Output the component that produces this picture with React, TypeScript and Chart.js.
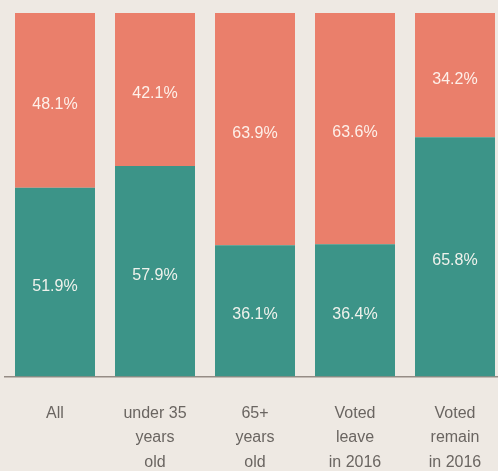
import React, { useEffect, useRef } from "react";
import { Chart, registerables } from "chart.js";

Chart.register(...registerables);

const categories: string[][] = [
  ["All"],
  ["under 35", "years", "old"],
  ["65+", "years", "old"],
  ["Voted", "leave", "in 2016"],
  ["Voted", "remain", "in 2016"],
];
const agreeShare = [51.9, 57.9, 36.1, 36.4, 65.8];
const disagreeShare = [48.1, 42.1, 63.9, 63.6, 34.2];

const BG = "#eee9e3";
const TEAL = "#3c9488";
const SALMON = "#ea7f6b";

// Writes each segment's share in the middle of its bar piece.
const segmentLabels = {
  id: "segmentLabels",
  afterDatasetsDraw(chart: Chart) {
    const ctx = chart.ctx;
    ctx.save();
    ctx.font = "16px 'Liberation Sans', Arial, sans-serif";
    ctx.fillStyle = "rgba(255,250,244,0.92)";
    ctx.textAlign = "center";
    ctx.textBaseline = "middle";
    chart.data.datasets.forEach((ds, di) => {
      const meta = chart.getDatasetMeta(di);
      meta.data.forEach((el: any, i: number) => {
        const v = ds.data[i] as number;
        const mid = (el.y + el.base) / 2 + 4;
        ctx.fillText(v.toFixed(1) + "%", el.x, mid);
      });
    });
    ctx.restore();
  },
};

export default function App() {
  const ref = useRef<HTMLCanvasElement>(null);

  useEffect(() => {
    document.body.style.margin = "0";
    document.body.style.overflow = "hidden";
    document.body.style.background = BG;
    const chart = new Chart(ref.current!, {
      type: "bar",
      data: {
        labels: categories,
        datasets: [
          {
            data: agreeShare,
            backgroundColor: TEAL,
            barPercentage: 0.8,
            categoryPercentage: 1,
          },
          {
            data: disagreeShare,
            backgroundColor: SALMON,
            barPercentage: 0.8,
            categoryPercentage: 1,
          },
        ],
      },
      options: {
        animation: false,
        responsive: false,
        maintainAspectRatio: false,
        layout: { padding: { top: 13, left: 5, right: 0, bottom: 0 } },
        plugins: {
          legend: { display: false },
          tooltip: { enabled: false },
        },
        scales: {
          x: {
            stacked: true,
            grid: { display: false },
            border: { display: true, color: "#958c85", width: 1.5 },
            ticks: {
              color: "#6a6561",
              padding: 16.5,
              maxRotation: 0,
              autoSkip: false,
              font: {
                family: "'Liberation Sans', Arial, sans-serif",
                size: 16,
                lineHeight: 1.53,
              },
            },
          },
          y: {
            stacked: true,
            display: false,
            min: 0,
            max: 100,
          },
        },
      },
      plugins: [segmentLabels],
    });
    return () => chart.destroy();
  }, []);

  return (
    <div style={{ width: 505, height: 491, background: BG, position: "absolute", left: 0, top: 0 }}>
      <canvas ref={ref} width={505} height={491} style={{ display: "block" }} />
    </div>
  );
}
